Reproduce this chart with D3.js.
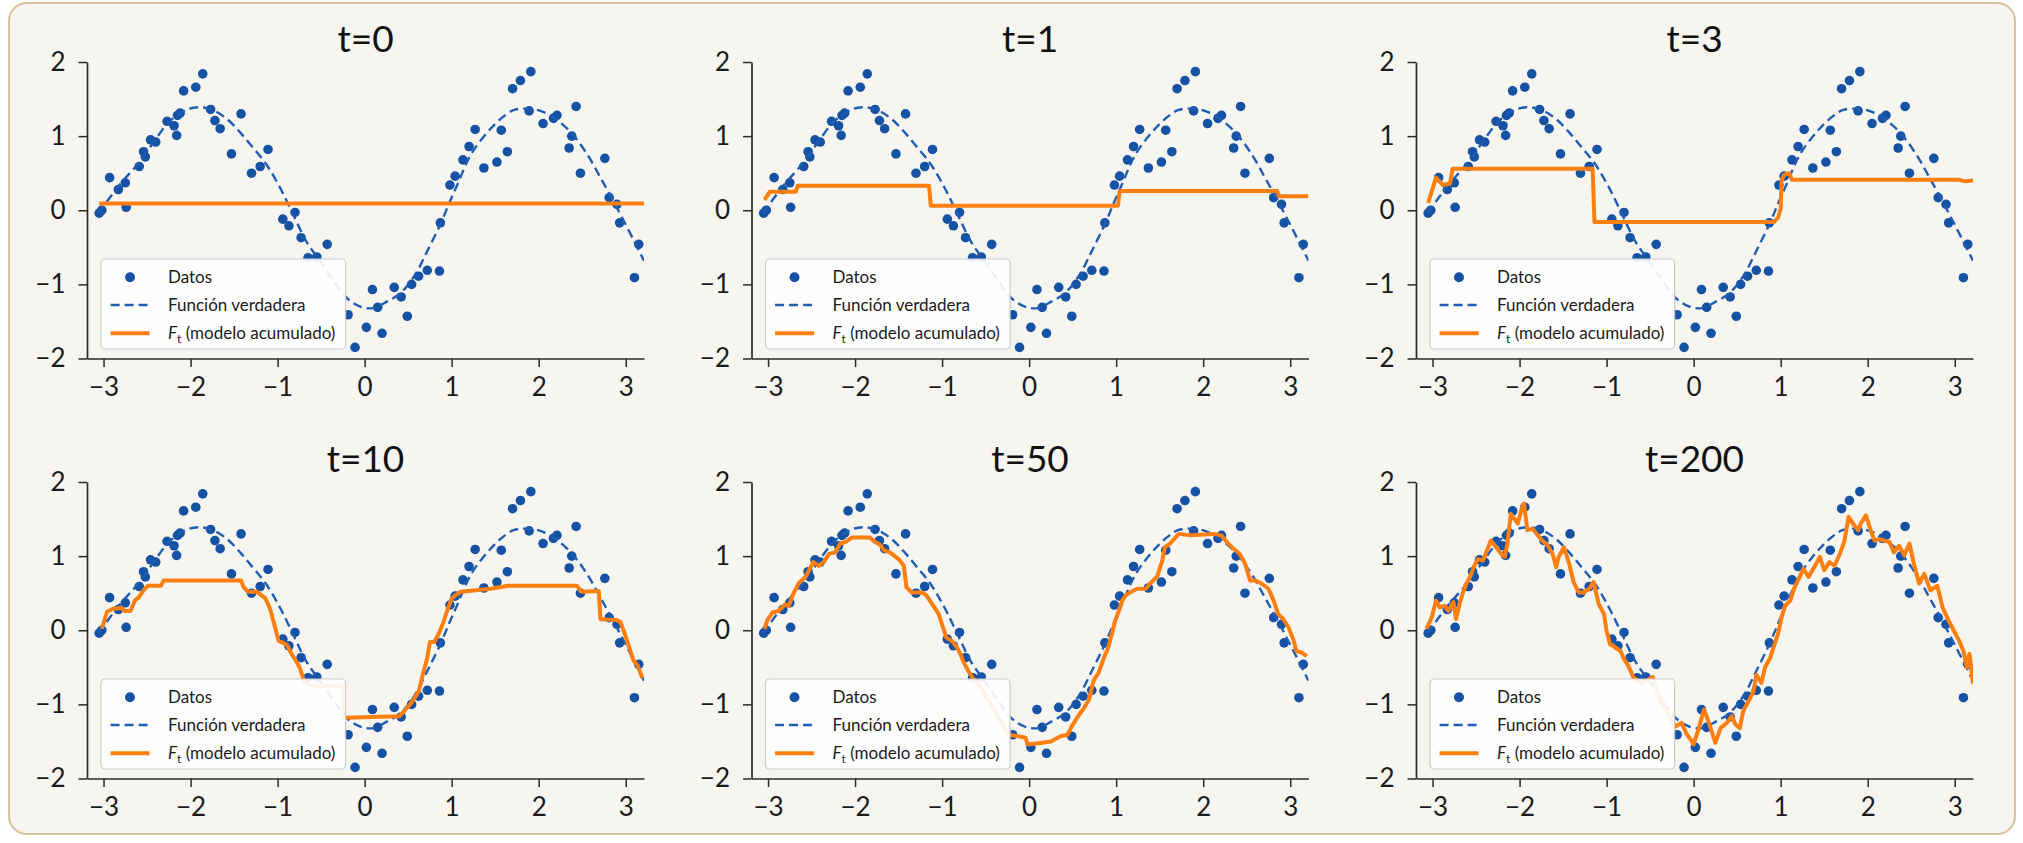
<!DOCTYPE html>
<html>
<head>
<meta charset="utf-8">
<script src="https://cdn.jsdelivr.net/npm/d3@7"></script>
<style>
  html, body { margin: 0; padding: 0; background: #ffffff; }
  svg { display: block; font-family: Lato, "Noto Sans", sans-serif; }
</style>
</head>
<body>
<svg id="chart" width="2023" height="843"></svg>
<script>
// Noisy observations
const dataX = [-3.05, -3.02, -2.93, -2.83, -2.75, -2.74, -2.59, -2.54, -2.52, -2.46,
  -2.40, -2.27, -2.19, -2.16, -2.15, -2.12, -2.08, -1.94, -1.86, -1.77,
  -1.72, -1.66, -1.53, -1.42, -1.30, -1.20, -1.11, -0.94, -0.87, -0.80,
  -0.73, -0.65, -0.55, -0.43, -0.19, -0.11, 0.02, 0.09, 0.15, 0.20,
  0.34, 0.42, 0.49, 0.54, 0.62, 0.72, 0.86, 0.87, 0.98, 1.04,
  1.13, 1.20, 1.27, 1.37, 1.52, 1.57, 1.64, 1.70, 1.79, 1.91,
  1.89, 2.05, 2.17, 2.21, 2.38, 2.43, 2.35, 2.48, 2.76, 2.81,
  2.90, 2.93, 3.15, 3.10];
const dataY = [-0.04, 0.00, 0.44, 0.28, 0.37, 0.04, 0.59, 0.79, 0.72, 0.95,
  0.92, 1.20, 1.14, 1.01, 1.28, 1.31, 1.61, 1.66, 1.84, 1.36,
  1.21, 1.10, 0.76, 1.30, 0.50, 0.59, 0.82, -0.12, -0.21, -0.03,
  -0.37, -0.64, -0.63, -0.46, -1.41, -1.85, -1.58, -1.07, -1.31, -1.66,
  -1.04, -1.17, -1.43, -1.00, -0.89, -0.81, -0.82, -0.17, 0.34, 0.46,
  0.68, 0.86, 1.09, 0.57, 0.65, 1.08, 0.79, 1.64, 1.75, 1.87,
  1.34, 1.17, 1.24, 1.28, 1.00, 1.40, 0.84, 0.50, 0.70, 0.17,
  0.08, -0.17, -0.46, -0.91];

// Underlying function, sampled along x
const trueX = [-3.06, -2.81, -2.58, -2.43, -2.24, -2.04, -1.89, -1.74, -1.58, -1.43,
  -1.28, -1.13, -0.97, -0.82, -0.67, -0.51, -0.35, -0.21, -0.05, 0.10,
  0.26, 0.41, 0.57, 0.72, 0.87, 0.97, 1.06, 1.22, 1.41, 1.56,
  1.71, 1.87, 2.02, 2.17, 2.37, 2.56, 2.71, 2.86, 3.02, 3.21];
const trueY = [-0.04, 0.35, 0.66, 0.91, 1.20, 1.36, 1.39, 1.35, 1.23, 1.05,
  0.84, 0.62, 0.30, -0.06, -0.42, -0.69, -0.96, -1.18, -1.30, -1.32,
  -1.23, -1.12, -0.89, -0.55, -0.19, 0.09, 0.33, 0.75, 1.05, 1.23,
  1.35, 1.37, 1.34, 1.25, 1.05, 0.75, 0.44, 0.12, -0.24, -0.68];

// Accumulated boosting model F_t after t rounds, as [x, y] vertices
const fitT0 = [[-3.05, 0.09], [3.21, 0.09]];
const fitT1 = [[-3.04, 0.14], [-2.98, 0.25], [-2.68, 0.25], [-2.66, 0.33], [-1.15, 0.33],
  [-1.13, 0.06], [1.02, 0.06], [1.04, 0.26], [2.85, 0.26], [2.87, 0.19], [3.21, 0.19]];
const fitT3 = [[-3.05, 0.10], [-2.96, 0.44], [-2.88, 0.34], [-2.80, 0.36], [-2.77, 0.56],
  [-1.16, 0.56], [-1.14, -0.16], [0.92, -0.16], [0.97, -0.10], [1.00, 0.02], [1.01, 0.40],
  [1.04, 0.48], [1.10, 0.50], [1.13, 0.41], [3.05, 0.41], [3.12, 0.39], [3.21, 0.40]];
const fitT10 = [[-3.02, 0.02], [-2.96, 0.25], [-2.89, 0.29], [-2.79, 0.30], [-2.76, 0.26],
  [-2.69, 0.26], [-2.64, 0.40], [-2.59, 0.45], [-2.54, 0.54], [-2.49, 0.60], [-2.34, 0.60],
  [-2.31, 0.67], [-1.42, 0.67], [-1.39, 0.58], [-1.34, 0.52], [-1.24, 0.52], [-1.14, 0.43],
  [-1.09, 0.30], [-1.04, 0.09], [-0.99, -0.14], [-0.89, -0.20], [-0.84, -0.32], [-0.79, -0.41],
  [-0.74, -0.52], [-0.69, -0.71], [-0.59, -0.75], [-0.25, -0.76], [-0.24, -1.18], [0.40, -1.16],
  [0.47, -1.07], [0.55, -0.96], [0.62, -0.83], [0.67, -0.59], [0.72, -0.37], [0.75, -0.16],
  [0.80, -0.16], [0.85, -0.05], [0.90, 0.09], [0.95, 0.27], [1.00, 0.43], [1.10, 0.52],
  [1.45, 0.56], [1.65, 0.60], [2.44, 0.60], [2.49, 0.52], [2.69, 0.53], [2.71, 0.15],
  [2.89, 0.14], [2.94, 0.11], [2.99, -0.05], [3.04, -0.23], [3.09, -0.41], [3.14, -0.48],
  [3.19, -0.64]];
const fitT50 = [[-3.04, 0.02], [-3.01, 0.13], [-2.95, 0.24], [-2.88, 0.26], [-2.80, 0.35],
  [-2.76, 0.33], [-2.71, 0.49], [-2.65, 0.63], [-2.57, 0.72], [-2.51, 0.85], [-2.48, 0.92],
  [-2.42, 0.87], [-2.36, 0.92], [-2.30, 1.03], [-2.23, 1.05], [-2.17, 1.17], [-2.11, 1.19],
  [-2.04, 1.25], [-1.83, 1.25], [-1.77, 1.19], [-1.71, 1.15], [-1.67, 1.08], [-1.60, 1.05],
  [-1.50, 0.96], [-1.44, 0.87], [-1.41, 0.58], [-1.35, 0.51], [-1.23, 0.51], [-1.18, 0.47],
  [-1.10, 0.33], [-1.04, 0.22], [-0.99, 0.04], [-0.95, -0.10], [-0.89, -0.14], [-0.83, -0.23],
  [-0.79, -0.32], [-0.76, -0.41], [-0.70, -0.55], [-0.64, -0.66], [-0.55, -0.78], [-0.45, -0.98],
  [-0.35, -1.18], [-0.24, -1.41], [-0.13, -1.43], [-0.04, -1.45], [-0.02, -1.54], [0.13, -1.52],
  [0.25, -1.50], [0.36, -1.43], [0.44, -1.41], [0.48, -1.32], [0.55, -1.18], [0.63, -1.05],
  [0.69, -0.93], [0.74, -0.68], [0.80, -0.57], [0.86, -0.37], [0.91, -0.23], [0.95, -0.05],
  [0.99, 0.13], [1.03, 0.26], [1.07, 0.40], [1.11, 0.47], [1.16, 0.51], [1.24, 0.56],
  [1.34, 0.56], [1.39, 0.63], [1.47, 0.72], [1.53, 0.94], [1.56, 1.12], [1.62, 1.17],
  [1.72, 1.30], [1.85, 1.28], [2.12, 1.30], [2.21, 1.28], [2.27, 1.19], [2.35, 1.10],
  [2.42, 1.03], [2.48, 0.90], [2.54, 0.67], [2.60, 0.67], [2.67, 0.63], [2.75, 0.56],
  [2.81, 0.40], [2.86, 0.22], [2.92, 0.15], [2.98, 0.04], [3.04, -0.14], [3.07, -0.28],
  [3.13, -0.30], [3.19, -0.35]];
const fitT200 = [[-3.07, 0.02], [-3.01, 0.17], [-2.96, 0.40], [-2.92, 0.31], [-2.86, 0.33],
  [-2.82, 0.26], [-2.76, 0.38], [-2.73, 0.15], [-2.69, 0.35], [-2.65, 0.51], [-2.61, 0.63],
  [-2.57, 0.72], [-2.52, 0.87], [-2.48, 0.96], [-2.42, 0.94], [-2.36, 1.12], [-2.33, 1.21],
  [-2.27, 1.12], [-2.21, 1.03], [-2.17, 0.99], [-2.14, 1.17], [-2.10, 1.57], [-2.06, 1.50],
  [-2.02, 1.44], [-1.97, 1.66], [-1.95, 1.71], [-1.91, 1.35], [-1.85, 1.37], [-1.79, 1.28],
  [-1.74, 1.21], [-1.68, 1.15], [-1.62, 1.03], [-1.58, 0.85], [-1.55, 0.99], [-1.49, 1.12],
  [-1.43, 0.90], [-1.38, 0.65], [-1.32, 0.51], [-1.26, 0.51], [-1.20, 0.56], [-1.15, 0.65],
  [-1.09, 0.35], [-1.03, 0.22], [-1.00, -0.01], [-0.96, -0.19], [-0.90, -0.23], [-0.84, -0.28],
  [-0.80, -0.39], [-0.75, -0.48], [-0.69, -0.64], [-0.60, -0.72], [-0.47, -0.63], [-0.40, -0.90],
  [-0.30, -1.12], [-0.21, -1.30], [-0.14, -1.25], [-0.08, -1.40], [-0.02, -1.50], [0.00, -1.54],
  [0.06, -1.32], [0.12, -1.07], [0.17, -1.23], [0.25, -1.52], [0.31, -1.32], [0.38, -1.25],
  [0.44, -1.16], [0.48, -1.27], [0.53, -1.32], [0.57, -1.09], [0.63, -0.96], [0.69, -0.82],
  [0.72, -0.60], [0.78, -0.71], [0.82, -0.50], [0.88, -0.37], [0.93, -0.19], [0.97, -0.05],
  [1.01, 0.17], [1.05, 0.33], [1.11, 0.40], [1.16, 0.58], [1.22, 0.72], [1.26, 0.83],
  [1.32, 0.72], [1.35, 0.78], [1.41, 0.90], [1.45, 0.99], [1.50, 0.81], [1.56, 0.92],
  [1.62, 0.87], [1.68, 1.03], [1.73, 1.19], [1.78, 1.53], [1.83, 1.44], [1.89, 1.35],
  [1.92, 1.44], [1.98, 1.55], [2.04, 1.33], [2.08, 1.21], [2.13, 1.23], [2.19, 1.21],
  [2.25, 1.19], [2.30, 1.05], [2.36, 1.14], [2.42, 1.01], [2.48, 1.17], [2.53, 0.90],
  [2.59, 0.63], [2.65, 0.76], [2.72, 0.54], [2.80, 0.60], [2.86, 0.31], [2.93, 0.13],
  [3.01, -0.05], [3.05, -0.14], [3.10, -0.28], [3.14, -0.50], [3.17, -0.32], [3.21, -0.72]];

const panelTitles = ["t=0", "t=1", "t=3", "t=10", "t=50", "t=200"];
const panelFits = [fitT0, fitT1, fitT3, fitT10, fitT50, fitT200];
const xTicks = [-3, -2, -1, 0, 1, 2, 3];
const yTicks = [-2, -1, 0, 1, 2];
const xDomain = [-3.19, 3.21];
const yDomain = [-2, 2];
const legendLabels = ["Datos", "Función verdadera", "(modelo acumulado)"];

// Layout
const colLeft = [87, 751.5, 1416];
const rowTop = [62, 482];
const plotW = 557, plotH = 296.5;

const BLUE = "#1652a4";
const BLUE_LINE = "#1f5db2";
const ORANGE = "#ff7f0e";
const INK = "#1a1a1a";

const svg = d3.select("#chart");
const defs = svg.append("defs");

// card background
svg.append("rect")
  .attr("x", 9).attr("y", 3).attr("width", 2006).attr("height", 831)
  .attr("rx", 18).attr("ry", 18)
  .attr("fill", "#f7f5f0").attr("stroke", "#d8c39c").attr("stroke-width", 2);

const points = dataX.map((v, i) => [v, dataY[i]]);
const truth = trueX.map((v, i) => [v, trueY[i]]);
const fmt = d3.format("d");

panelTitles.forEach((title, i) => {
  const col = i % 3, row = Math.floor(i / 3);
  const left = colLeft[col], top = rowTop[row];
  const x = d3.scaleLinear().domain(xDomain).range([left, left + plotW]);
  const y = d3.scaleLinear().domain(yDomain).range([top + plotH, top]);

  defs.append("clipPath").attr("id", "clip" + i)
    .append("rect").attr("x", left).attr("y", top).attr("width", plotW).attr("height", plotH);

  const g = svg.append("g");
  const plot = g.append("g").attr("clip-path", `url(#clip${i})`);

  plot.selectAll("circle").data(points).join("circle")
    .attr("cx", d => x(d[0])).attr("cy", d => y(d[1])).attr("r", 4.8)
    .attr("fill", BLUE);

  const smooth = d3.line().x(d => x(d[0])).y(d => y(d[1])).curve(d3.curveCatmullRom);
  plot.append("path").attr("d", smooth(truth))
    .attr("fill", "none").attr("stroke", BLUE_LINE).attr("stroke-width", 2.4)
    .attr("stroke-dasharray", "9,5");

  const straight = d3.line().x(d => x(d[0])).y(d => y(d[1]));
  plot.append("path").attr("d", straight(panelFits[i]))
    .attr("fill", "none").attr("stroke", ORANGE).attr("stroke-width", 4)
    .attr("stroke-linejoin", "round").attr("stroke-linecap", "butt");

  // axes
  const ax = g.append("g").attr("transform", `translate(0,${top + plotH})`)
    .call(d3.axisBottom(x).tickValues(xTicks).tickFormat(fmt).tickSize(8.5).tickSizeOuter(0).tickPadding(11));
  const ay = g.append("g").attr("transform", `translate(${left},0)`)
    .call(d3.axisLeft(y).tickValues(yTicks).tickFormat(fmt).tickSize(8.5).tickSizeOuter(0).tickPadding(13));
  [ax, ay].forEach(a => {
    a.select(".domain").attr("stroke", "#2a2a2a").attr("stroke-width", 1.7);
    a.selectAll(".tick line").attr("stroke", "#2a2a2a").attr("stroke-width", 1.5);
    a.selectAll(".tick text").attr("fill", INK).style("font-size", "26px")
      .style("font-family", "Lato, 'Noto Sans', sans-serif");
  });

  g.append("text")
    .attr("x", left + plotW / 2).attr("y", top - 10)
    .attr("text-anchor", "middle").attr("fill", "#111")
    .style("font-size", "37px")
    .text(title);

  // legend
  const lx = left + 14, ly = top + 197;
  const lg = g.append("g").attr("transform", `translate(${lx},${ly})`);
  lg.append("rect").attr("width", 244.6).attr("height", 90).attr("rx", 4)
    .attr("fill", "#ffffff").attr("fill-opacity", 0.9)
    .attr("stroke", "#cccccc").attr("stroke-width", 1.2);
  const rows = [18.3, 46, 74.3];
  lg.append("circle").attr("cx", 29).attr("cy", rows[0]).attr("r", 5).attr("fill", BLUE);
  lg.append("line").attr("x1", 9.6).attr("x2", 48.6).attr("y1", rows[1]).attr("y2", rows[1])
    .attr("stroke", BLUE_LINE).attr("stroke-width", 2.4).attr("stroke-dasharray", "9,5");
  lg.append("line").attr("x1", 9.6).attr("x2", 48.6).attr("y1", rows[2]).attr("y2", rows[2])
    .attr("stroke", ORANGE).attr("stroke-width", 4);
  lg.append("text").attr("x", 67).attr("y", rows[0] + 6).attr("fill", INK)
    .style("font-size", "17px").text(legendLabels[0]);
  lg.append("text").attr("x", 67).attr("y", rows[1] + 6).attr("fill", INK)
    .style("font-size", "17px").text(legendLabels[1]);
  const ft = lg.append("text").attr("x", 67).attr("y", rows[2] + 6).attr("fill", INK)
    .style("font-size", "17px");
  ft.append("tspan").style("font-style", "italic").text("F");
  ft.append("tspan").attr("dy", 4).style("font-size", "12px").text("t");
  ft.append("tspan").attr("dy", -4).text(" " + legendLabels[2]);
});
</script>
</body>
</html>
